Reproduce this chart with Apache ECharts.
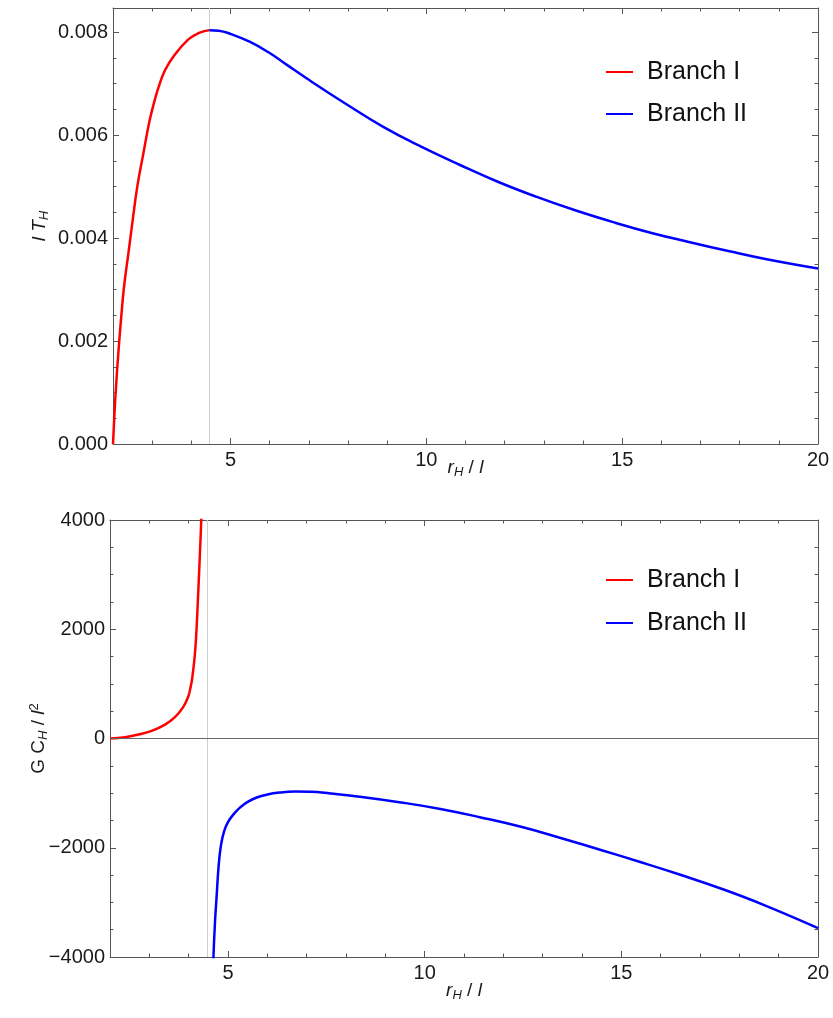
<!DOCTYPE html>
<html><head><meta charset="utf-8">
<script src="https://cdn.jsdelivr.net/npm/echarts@6/dist/echarts.min.js"></script>
<style>html,body{margin:0;padding:0;background:#fff}#c{width:833px;height:1018px}</style>
</head><body><div id="c"></div>
<script>
// ---------- data ----------
const seriesNames = ['Branch I', 'Branch II'];
const transitionR = 4.46;

// Top panel: l T_H vs r_H / l
const rT1 = [2.0, 2.04, 2.077, 2.136, 2.204, 2.281, 2.392, 2.503, 2.62, 2.774, 2.928, 3.055, 3.158, 3.328, 3.566, 3.923, 4.179, 4.46];
const T1  = [0, 0.00062, 0.00111, 0.00176, 0.00241, 0.00305, 0.00370, 0.00435, 0.00500, 0.00564, 0.00626, 0.00665, 0.00692, 0.00726, 0.00755, 0.00786, 0.00798, 0.00804];
const rT2 = [4.46, 4.7, 4.99, 5.5, 5.97, 6.45, 6.95, 7.92, 8.90, 9.88, 10.86, 11.84, 12.82, 13.80, 14.77, 15.75, 16.73, 17.71, 18.69, 20];
const T2  = [0.00804, 0.00803, 0.00797, 0.00781, 0.00761, 0.00736, 0.00710, 0.00662, 0.00616, 0.00577, 0.00542, 0.00509, 0.00480, 0.00454, 0.00431, 0.00410, 0.00392, 0.00375, 0.00359, 0.00341];

// Bottom panel: G C_H / l^2 vs r_H / l
const rC1 = [2.0, 2.38, 2.72, 3.06, 3.4, 3.65, 3.86, 3.99, 4.04, 4.09, 4.16, 4.2, 4.24, 4.29, 4.32, 4.35];
const C1  = [0, 24, 73, 140, 255, 390, 575, 770, 910, 1100, 1560, 2000, 2620, 3450, 4000, 4700];
const rC2 = [4.60, 4.63, 4.67, 4.71, 4.76, 4.82, 4.90, 5.0, 5.15, 5.31, 5.5, 5.73, 6.0, 6.3, 6.7, 7.1, 7.6, 8.4, 9.4, 10.4, 11.4, 12.5, 13.5, 14.5, 15.5, 16.5, 17.6, 18.6, 20];
const C2  = [-4800, -4000, -3350, -2900, -2350, -1960, -1700, -1530, -1380, -1260, -1160, -1080, -1025, -990, -972, -975, -1005, -1070, -1170, -1290, -1440, -1625, -1830, -2045, -2265, -2495, -2765, -3040, -3470];

// Axis ticks
const rMajorTicks = [5, 10, 15, 20];
const rRange = [2, 20];
const tRange = [0, 0.00847];
const tMajorStep = 0.002, tMinorStep = 0.0005;
const cRange = [-4000, 4000];
const cMajorStep = 2000, cMinorStep = 500;

// ---------- chart ----------
const zip = (xs, ys) => xs.map((x, i) => [x, ys[i]]);
const FONT = 'Liberation Sans, Arial, sans-serif';
const FRAME = '#555';
const LABEL = '#1a1a1a';

const richTitle = {
  i: { fontFamily: FONT, fontSize: 19, fontStyle: 'italic', color: LABEL },
  n: { fontFamily: FONT, fontSize: 19, color: LABEL },
  sub: { fontFamily: FONT, fontSize: 13, fontStyle: 'italic', color: LABEL, padding: [9, 0, 0, 0] },
  sup: { fontFamily: FONT, fontSize: 13, color: LABEL, padding: [0, 0, 9, 0] }
};

function xAxesFor(g, name, nameGap) {
  const base = { type: 'value', gridIndex: g, min: rRange[0], max: rRange[1], splitLine: { show: false } };
  const major = (pos, withLabel) => Object.assign({}, base, {
    position: pos,
    axisLine: { show: true, onZero: false, lineStyle: { color: FRAME, width: 1 } },
    axisTick: { show: true, inside: true, length: 6, customValues: rMajorTicks, lineStyle: { color: FRAME } },
    axisLabel: withLabel ? { show: true, customValues: rMajorTicks, fontFamily: FONT, fontSize: 20, color: LABEL, margin: 6 } : { show: false }
  }, withLabel ? {
    name: name, nameLocation: 'middle', nameGap: nameGap, nameMoveOverlap: false,
    nameTextStyle: { rich: richTitle }
  } : {});
  const minor = (pos) => Object.assign({}, base, {
    position: pos, interval: 1,
    axisLine: { show: false, onZero: false },
    axisTick: { show: true, inside: true, length: 3.5, lineStyle: { color: FRAME } },
    axisLabel: { show: false }
  });
  return [major('bottom', true), minor('bottom'), major('top', false), minor('top')];
}

function yAxesFor(g, range, majorStep, minorStep, fmt, name, nameGap) {
  const base = { type: 'value', gridIndex: g, min: range[0], max: range[1], splitLine: { show: false } };
  const major = (pos, withLabel) => Object.assign({}, base, {
    position: pos, interval: majorStep,
    axisLine: { show: true, onZero: false, lineStyle: { color: FRAME, width: 1 } },
    axisTick: { show: true, inside: true, length: 6, lineStyle: { color: FRAME } },
    axisLabel: withLabel ? { show: true, formatter: fmt, fontFamily: FONT, fontSize: 20, color: LABEL, margin: 5 } : { show: false }
  }, withLabel ? {
    name: name, nameLocation: 'middle', nameGap: nameGap, nameMoveOverlap: false,
    nameTextStyle: { rich: richTitle }
  } : {});
  const minor = (pos) => Object.assign({}, base, {
    position: pos, interval: minorStep,
    axisLine: { show: false, onZero: false },
    axisTick: { show: true, inside: true, length: 3.5, lineStyle: { color: FRAME } },
    axisLabel: { show: false }
  });
  return [major('left', true), minor('left'), major('right', false), minor('right')];
}

const tFmt = v => (Math.abs(v / tMajorStep - Math.round(v / tMajorStep)) < 1e-6) ? v.toFixed(3) : '';
const cFmt = v => v < 0 ? '\u2212' + Math.abs(v) : String(v);

const xAxes = xAxesFor(0, '{i|r}{sub|H}{n| / }{i|l}', 13).concat(xAxesFor(1, '{i|r}{sub|H}{n| / }{i|l}', 23));
const yAxes = yAxesFor(0, tRange, tMajorStep, tMinorStep, tFmt, '{i|l}{n| }{i|T}{sub|H}', 62)
  .concat(yAxesFor(1, cRange, cMajorStep, cMinorStep, cFmt, '{n|G C}{sub|H}{n| / }{i|l}{sup|2}', 60));

const vline = {
  silent: true, symbol: 'none', z: 1, animation: false,
  label: { show: false },
  lineStyle: { color: '#cfcfcf', width: 1, type: 'solid' },
  data: [{ xAxis: transitionR }]
};
const vzLine = {
  silent: true, symbol: 'none', animation: false,
  label: { show: false },
  lineStyle: { color: '#666', width: 1, type: 'solid' },
  data: [{ xAxis: transitionR, lineStyle: { color: '#cfcfcf' } }, { yAxis: 0 }]
};

function lineSeries(name, color, data, xi, yi, extra) {
  return Object.assign({
    name: name, type: 'line', xAxisIndex: xi, yAxisIndex: yi, data: data,
    showSymbol: false, symbol: 'none', smooth: 0.45,
    lineStyle: { color: color, width: 2.5 }, itemStyle: { color: color },
    clip: true, animation: false, z: 3
  }, extra || {});
}

const legendBase = {
  orient: 'vertical', icon: 'rect', itemWidth: 27, itemHeight: 2, itemGap: 12, padding: 0,
  data: seriesNames, selectedMode: false,
  textStyle: { fontFamily: FONT, fontSize: 25, color: '#111', lineHeight: 30, padding: [0, 0, 0, 9] }
};

const option = {
  backgroundColor: '#fff',
  animation: false,
  grid: [
    { left: 113, top: 8, width: 705, height: 436, outerBoundsMode: 'none', containLabel: false },
    { left: 110, top: 520, width: 708, height: 437, outerBoundsMode: 'none', containLabel: false }
  ],
  legend: [
    Object.assign({}, legendBase, { left: 606, top: 57 }),
    Object.assign({}, legendBase, { left: 606, top: 565, itemGap: 13 })
  ],
  xAxis: xAxes,
  yAxis: yAxes,
  series: [
    lineSeries(seriesNames[0], '#ff0000', zip(rT1, T1), 0, 0, { markLine: vline }),
    lineSeries(seriesNames[1], '#0000ff', zip(rT2, T2), 0, 0),
    lineSeries(seriesNames[0], '#ff0000', zip(rC1, C1), 4, 4, { markLine: vzLine }),
    lineSeries(seriesNames[1], '#0000ff', zip(rC2, C2), 4, 4)
  ]
};

const chart = echarts.init(document.getElementById('c'), null, { renderer: 'canvas' });
chart.setOption(option);
</script>
</body></html>
